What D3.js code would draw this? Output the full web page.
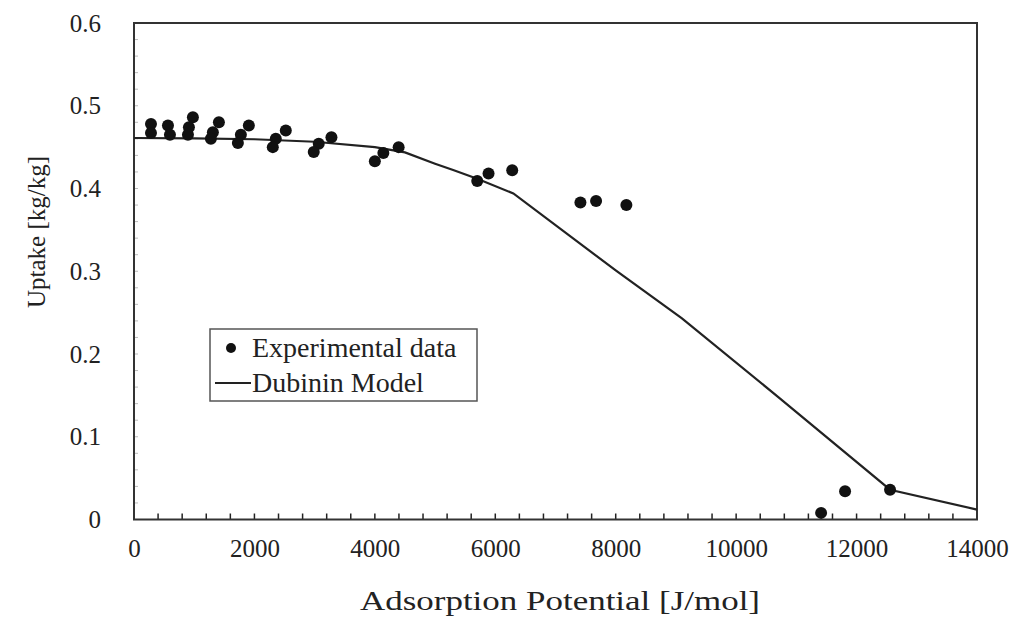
<!DOCTYPE html>
<html><head><meta charset="utf-8">
<script src="https://cdn.jsdelivr.net/npm/d3@7"></script>
<style>body{margin:0;background:#fff}</style>
</head><body>
<svg id="c" width="1018" height="617"></svg>
<script>
const expX = [282,282,564,597,978,912,896,1410,1310,1277,1907,1775,1725,2521,2355,2305,3068,2985,3279,4395,4141,4000,5888,5700,6281,7414,7674,8177,11411,11809,12556];
const expY = [0.478,0.467,0.476,0.465,0.486,0.474,0.465,0.480,0.468,0.460,0.476,0.465,0.455,0.470,0.460,0.450,0.454,0.444,0.462,0.450,0.443,0.433,0.418,0.409,0.422,0.383,0.385,0.380,0.008,0.034,0.036];
const modelX = [0,1000,2000,3000,4000,4500,5000,5300,5700,6300,8000,9100,10700,12556,14000];
const modelY = [0.461,0.4605,0.4595,0.4565,0.450,0.4436,0.430,0.4223,0.4117,0.394,0.301,0.243,0.148,0.036,0.012];
const xTicks = [0,2000,4000,6000,8000,10000,12000,14000];
const yTicks = [0,0.1,0.2,0.3,0.4,0.5,0.6];
const legendLabels = ["Experimental data","Dubinin Model"];

const svg = d3.select("#c");
const L=134, R=977, T=23, B=519.5;
const x = d3.scaleLinear().domain([0,14000]).range([L,R]);
const y = d3.scaleLinear().domain([0,0.6]).range([B,T]);
const serif = "'Liberation Serif','Times New Roman',serif";

// minor ticks
const xMinor = d3.range(0,14001,400);
svg.append("g").selectAll("line").data(xMinor).join("line")
  .attr("x1",d=>x(d)).attr("x2",d=>x(d)).attr("y1",B).attr("y2",B-6)
  .attr("stroke","#222").attr("stroke-width",1.5);
const yMinor = d3.range(0,0.6001,0.02);
svg.append("g").selectAll("line").data(yMinor).join("line")
  .attr("x1",L).attr("x2",L+4).attr("y1",d=>y(d)).attr("y2",d=>y(d))
  .attr("stroke","#bbb").attr("stroke-width",1);

// frame
svg.append("rect").attr("x",L).attr("y",T).attr("width",R-L).attr("height",B-T)
  .attr("fill","none").attr("stroke","#333").attr("stroke-width",2);

const gx = svg.append("g").attr("transform",`translate(0,${B})`)
  .call(d3.axisBottom(x).tickValues(xTicks).tickSize(0).tickPadding(20).tickFormat(d3.format("d")));
gx.select(".domain").remove();
gx.selectAll("text").attr("font-family",serif).attr("font-size",25).attr("fill","#222");

const gy = svg.append("g").attr("transform",`translate(${L},0)`)
  .call(d3.axisLeft(y).tickValues(yTicks).tickSize(0).tickPadding(33).tickFormat(d=>d===0?"0":d3.format(".1f")(d)));
gy.select(".domain").remove();
gy.selectAll("text").attr("font-family",serif).attr("font-size",25).attr("fill","#222");

svg.append("text").attr("x",560).attr("y",610).attr("text-anchor","middle")
  .attr("font-family",serif).attr("font-size",28).attr("fill","#222")
  .attr("textLength",400).attr("lengthAdjust","spacingAndGlyphs")
  .text("Adsorption Potential [J/mol]");
svg.append("text").attr("transform","translate(45,232) rotate(-90)").attr("text-anchor","middle")
  .attr("font-family",serif).attr("font-size",25).attr("fill","#222")
  .text("Uptake [kg/kg]");

const pts = modelX.map((d,i)=>[d,modelY[i]]);
svg.append("path").datum(pts)
  .attr("d",d3.line().x(d=>x(d[0])).y(d=>y(d[1])))
  .attr("fill","none").attr("stroke","#222").attr("stroke-width",2.2);

svg.append("g").selectAll("circle").data(expX.map((d,i)=>[d,expY[i]])).join("circle")
  .attr("cx",d=>x(d[0])).attr("cy",d=>y(d[1])).attr("r",6).attr("fill","#111");

const lg = svg.append("g");
lg.append("rect").attr("x",210).attr("y",329).attr("width",267).attr("height",72)
  .attr("fill","#fff").attr("stroke","#555").attr("stroke-width",1.5);
lg.append("circle").attr("cx",231).attr("cy",348).attr("r",5).attr("fill","#111");
lg.append("line").attr("x1",215).attr("x2",251).attr("y1",383).attr("y2",383).attr("stroke","#222").attr("stroke-width",2);
lg.selectAll("text").data(legendLabels).join("text")
  .attr("x",252).attr("y",(d,i)=>357+i*35)
  .attr("font-family",serif).attr("font-size",28).attr("fill","#222").text(d=>d);
</script>
</body></html>
